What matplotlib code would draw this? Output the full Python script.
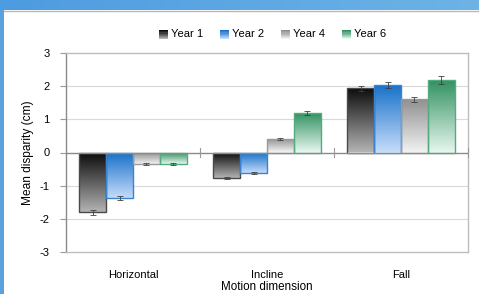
import numpy as np
import matplotlib
matplotlib.use("Agg")
import matplotlib.pyplot as plt
from matplotlib.colors import LinearSegmentedColormap
from matplotlib.patches import Rectangle
from matplotlib.legend_handler import HandlerBase

plt.rcParams['font.family'] = ['Liberation Sans', 'DejaVu Sans']

categories = ["Horizontal", "Incline", "Fall"]
series = ["Year 1", "Year 2", "Year 4", "Year 6"]
values = {
    "Year 1": [-1.80, -0.76, 1.93],
    "Year 2": [-1.36, -0.61, 2.04],
    "Year 4": [-0.35, 0.42, 1.60],
    "Year 6": [-0.35, 1.19, 2.19],
}
errors = {
    "Year 1": [0.08, 0.03, 0.08],
    "Year 2": [0.06, 0.03, 0.10],
    "Year 4": [0.02, 0.03, 0.07],
    "Year 6": [0.03, 0.05, 0.12],
}
yticks = [-3, -2, -1, 0, 1, 2, 3]

grad_colors = {
    "Year 1": ("#0a0a0a", "#b4b4b4"),
    "Year 2": ("#1570c8", "#c6dcfa"),
    "Year 4": ("#8e8e8e", "#f2f2f2"),
    "Year 6": ("#2f8f5f", "#e6f7ee"),
}
edge_colors = {
    "Year 1": "#4a4a4a",
    "Year 2": "#3a82d2",
    "Year 4": "#9a9a9a",
    "Year 6": "#55aa80",
}

W, H = 479, 294
fig = plt.figure(figsize=(W / 100, H / 100), dpi=100)
fig.patch.set_facecolor("white")

# window frame (blue strips)
top_ax = fig.add_axes([0, 1 - 10 / H, 1, 10 / H])
top_ax.imshow(np.linspace(0, 1, 256)[None, :], aspect="auto",
              cmap=LinearSegmentedColormap.from_list("b", ["#4d9be0", "#6db3e6"]),
              extent=[0, 1, 0, 1])
top_ax.axis("off")
left_ax = fig.add_axes([0, 0, 4 / W, 1 - 10 / H])
left_ax.set_facecolor("#5aa2de")
left_ax.set_xticks([]); left_ax.set_yticks([])
for s in left_ax.spines.values():
    s.set_visible(False)
fig.add_artist(plt.Line2D([4 / W, 1], [1 - 10.5 / H, 1 - 10.5 / H],
                          transform=fig.transFigure, color="#b8b8b8", lw=1))

ax = fig.add_axes([66 / W, 42 / H, (468 - 66) / W, (252 - 53) / H])

x = np.arange(len(categories))
bw = 0.2

for i, s in enumerate(series):
    pos = x - 0.3 + i * bw
    bars = ax.bar(pos, values[s], width=bw, facecolor="none",
                  edgecolor=edge_colors[s], linewidth=1.0, zorder=4)
    cmap = LinearSegmentedColormap.from_list(s, [grad_colors[s][0], grad_colors[s][1]])
    for b in bars:
        x0, y0 = b.get_x(), b.get_y()
        w, h = b.get_width(), b.get_height()
        ylo, yhi = min(y0, y0 + h), max(y0, y0 + h)
        im = ax.imshow(np.linspace(0, 1, 256)[:, None], aspect="auto", cmap=cmap,
                       extent=[x0, x0 + w, ylo, yhi], origin="upper", zorder=3)
        im.set_clip_path(b)
    ax.errorbar(pos, values[s], yerr=errors[s], fmt="none", ecolor="#404040",
                elinewidth=0.6, capsize=2, capthick=0.6, zorder=5)

ax.set_xlim(-0.5, len(categories) - 0.5)
ax.set_ylim(yticks[0], yticks[-1])
ax.set_yticks(yticks)
ax.set_yticklabels([str(t) for t in yticks])
ax.set_xticks(x)
ax.set_xticklabels(categories)
ax.tick_params(axis="x", length=0, pad=13, labelsize=8)
ax.tick_params(axis="y", length=4, width=0.8, color="#9a9a9a", pad=8, labelsize=8)

for t in yticks[1:-1]:
    if t != 0:
        ax.axhline(t, color="#d9d9d9", lw=0.8, zorder=1)
ax.axhline(0, color="#8a8a8a", lw=1.0, zorder=6)

# category separator ticks crossing the zero line
for b in np.arange(1, len(categories) + 1) - 0.5:
    ax.plot([b, b], [-0.14, 0.14], color="#9a9a9a", lw=0.8, zorder=6, clip_on=False)

for name, sp in ax.spines.items():
    sp.set_color("#bdbdbd")
    sp.set_linewidth(1.0)
ax.spines["left"].set_color("#8a8a8a")

ax.set_ylabel("Mean disparity (cm)", fontsize=8.6, labelpad=4)
ax.set_xlabel("Motion dimension", fontsize=8.4, labelpad=1)


class GradHandler(HandlerBase):
    def __init__(self, c0, c1):
        super().__init__()
        self.c0, self.c1 = c0, c1

    def create_artists(self, legend, orig_handle, xdescent, ydescent, width,
                       height, fontsize, trans):
        n = 8
        arts = []
        c0 = np.array(matplotlib.colors.to_rgb(self.c0))
        c1 = np.array(matplotlib.colors.to_rgb(self.c1))
        size = height * 1.0
        x0 = -xdescent + (width - size)
        y0 = -ydescent - 1
        for k in range(n):
            f = k / (n - 1)
            col = c0 * (1 - f) + c1 * f
            r = Rectangle((x0, y0 + size * (n - 1 - k) / n), size, size / n,
                          facecolor=col, edgecolor="none", transform=trans)
            arts.append(r)
        return arts


handles = [Rectangle((0, 0), 1, 1) for _ in series]
hmap = {h: GradHandler(grad_colors[s][0], grad_colors[s][1])
        for h, s in zip(handles, series)}
fig.legend(handles, series, handler_map=hmap, loc="center",
           bbox_to_anchor=(272 / W, 1 - 34 / H), ncol=4, frameon=False,
           fontsize=8, handlelength=0.9, handleheight=0.9, handletextpad=0.3,
           columnspacing=1.4)

fig.savefig("out.png", dpi=100)
